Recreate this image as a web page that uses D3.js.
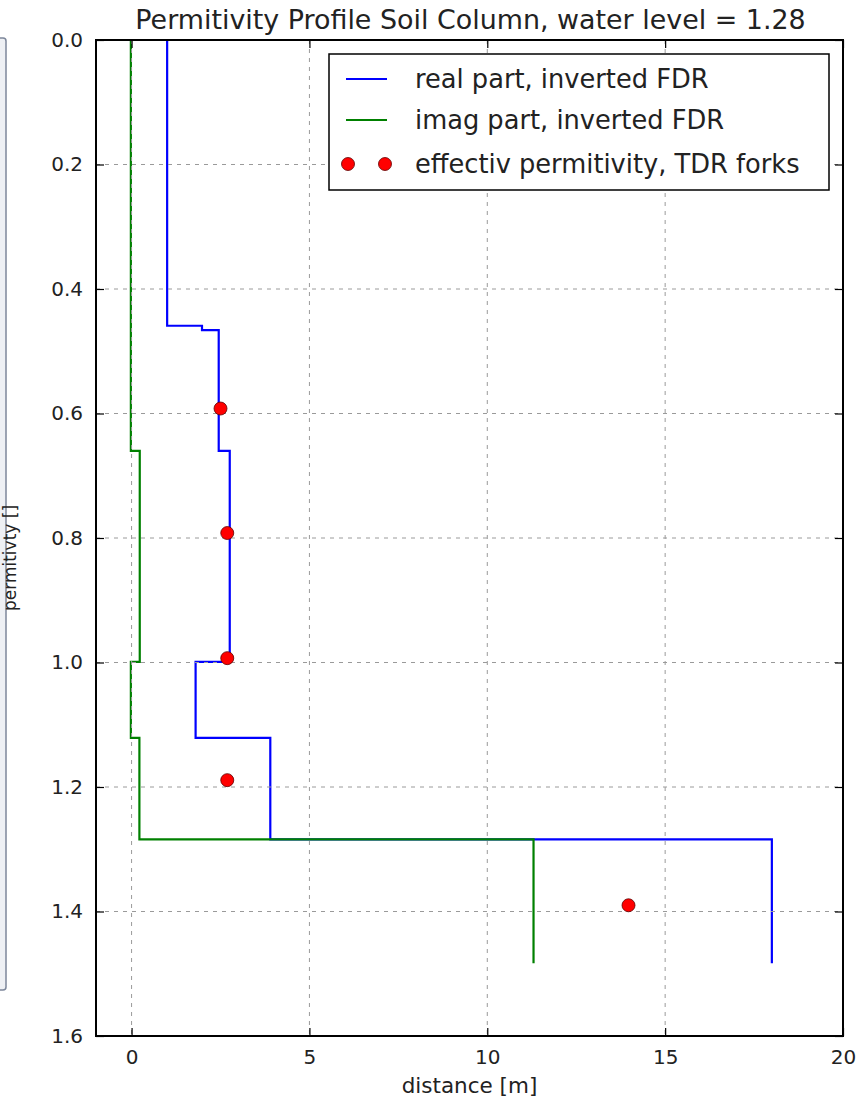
<!DOCTYPE html>
<html>
<head>
<meta charset="utf-8">
<script src="https://cdn.jsdelivr.net/npm/d3@7"></script>
<style>
  body { margin: 0; background: #fff; }
  svg { display: block; font-family: 'DejaVu Sans', sans-serif; }
</style>
</head>
<body>
<svg width="856" height="1106"></svg>
<script>
// depth breakpoints and step values of the inverted FDR profile
let realDepth = [0, 0.459, 0.466, 0.66, 0.999, 1.121, 1.284, 1.483];
let realValue = [1.0, 1.98, 2.45, 2.76, 1.8, 3.9, 18.0];

let imagDepth = [0, 0.66, 0.999, 1.121, 1.284, 1.483];
let imagValue = [-0.02, 0.23, -0.02, 0.22, 11.3];

// TDR fork measurements
let tdrValue = [2.5, 2.69, 2.69, 2.69, 13.97];
let tdrDepth = [0.592, 0.792, 0.993, 1.189, 1.39];

let xTicks = [0, 5, 10, 15, 20];
let yTicks = [0.0, 0.2, 0.4, 0.6, 0.8, 1.0, 1.2, 1.4, 1.6];

let legendLabels = ['real part, inverted FDR', 'imag part, inverted FDR', 'effectiv permitivity, TDR forks'];

// layout
let margin = { top: 40, right: 13, bottom: 70, left: 96 };
let width = 856 - margin.left - margin.right;
let height = 1106 - margin.top - margin.bottom;

let svg = d3.select('svg');

// window border at the far left of the screenshot
svg.append('rect')
    .attr('x', -4).attr('y', 38)
    .attr('width', 10).attr('height', 952)
    .attr('rx', 3)
    .attr('fill', '#eef0f4')
    .attr('stroke', '#7d879b')
    .attr('stroke-width', 1.5);

let g = svg.append('g')
    .attr('transform', 'translate(' + margin.left + ',' + margin.top + ')');

let xScale = d3.scaleLinear().domain([-1, 20]).range([0, width]);
let yScale = d3.scaleLinear().domain([0, 1.6]).range([0, height]);

// turn segment values into step points
let toSteps = (depths, vals) => {
    let pts = [];
    vals.forEach((v, i) => {
        pts.push([v, depths[i]]);
        pts.push([v, depths[i + 1]]);
    });
    return pts;
};

let line = d3.line()
    .x(d => xScale(d[0]))
    .y(d => yScale(d[1]));

g.append('path')
    .datum(toSteps(realDepth, realValue))
    .attr('d', line)
    .attr('fill', 'none')
    .attr('stroke', '#0000ff')
    .attr('stroke-width', 2.2);

g.append('path')
    .datum(toSteps(imagDepth, imagValue))
    .attr('d', line)
    .attr('fill', 'none')
    .attr('stroke', '#008000')
    .attr('stroke-width', 2.2);

// grid (drawn over the lines, classic style)
g.append('g').selectAll('line')
    .data(xTicks)
    .enter().append('line')
    .attr('x1', d => xScale(d)).attr('x2', d => xScale(d))
    .attr('y1', 0).attr('y2', height)
    .attr('stroke', '#9a9a9a')
    .attr('stroke-width', 1)
    .attr('stroke-dasharray', '4,5');

g.append('g').selectAll('line')
    .data(yTicks)
    .enter().append('line')
    .attr('x1', 0).attr('x2', width)
    .attr('y1', d => yScale(d)).attr('y2', d => yScale(d))
    .attr('stroke', '#9a9a9a')
    .attr('stroke-width', 1)
    .attr('stroke-dasharray', '4,5');

g.selectAll('.dot')
    .data(tdrValue)
    .enter().append('circle')
    .attr('class', 'dot')
    .attr('cx', d => xScale(d))
    .attr('cy', (d, i) => yScale(tdrDepth[i]))
    .attr('r', 6.5)
    .attr('fill', '#ff0000')
    .attr('stroke', '#600000')
    .attr('stroke-width', 0.8);

// axes with inward ticks on all four sides
let tickLen = 8;
let xAxis = d3.axisBottom(xScale).tickValues(xTicks).tickFormat(d3.format('d'))
    .tickSizeInner(-tickLen).tickSizeOuter(0).tickPadding(14);
let yAxis = d3.axisLeft(yScale).tickValues(yTicks).tickFormat(d3.format('.1f'))
    .tickSizeInner(-tickLen).tickSizeOuter(0).tickPadding(13);

let xg = g.append('g').attr('transform', 'translate(0,' + height + ')').call(xAxis);
let yg = g.append('g').call(yAxis);
g.append('g').call(d3.axisTop(xScale).tickValues(xTicks).tickFormat('').tickSizeInner(-tickLen).tickSizeOuter(0));
g.append('g').attr('transform', 'translate(' + width + ',0)')
    .call(d3.axisRight(yScale).tickValues(yTicks).tickFormat('').tickSizeInner(-tickLen).tickSizeOuter(0));

g.selectAll('.domain').remove();
g.selectAll('.tick line').attr('stroke', '#000').attr('stroke-width', 1.2);
xg.selectAll('text').attr('font-size', 20).attr('fill', '#222').attr('font-family', 'DejaVu Sans');
yg.selectAll('text').attr('font-size', 20).attr('fill', '#222').attr('font-family', 'DejaVu Sans');

// frame
g.append('rect')
    .attr('width', width).attr('height', height)
    .attr('fill', 'none')
    .attr('stroke', '#000')
    .attr('stroke-width', 2);

// title and axis labels
svg.append('text')
    .attr('x', margin.left + width / 2 + 1).attr('y', 29)
    .attr('text-anchor', 'middle')
    .attr('font-size', 26.9)
    .attr('fill', '#222')
    .text('Permitivity Profile Soil Column, water level = 1.28');

svg.append('text')
    .attr('x', margin.left + width / 2).attr('y', 1093)
    .attr('text-anchor', 'middle')
    .attr('font-size', 21.5)
    .attr('fill', '#222')
    .text('distance [m]');

svg.append('text')
    .attr('transform', 'translate(16,' + 558 + ') rotate(-90)')
    .attr('text-anchor', 'middle')
    .attr('font-size', 17)
    .attr('fill', '#222')
    .text('permitivty []');

// legend
let legend = svg.append('g').attr('transform', 'translate(329,54)');
legend.append('rect')
    .attr('width', 500).attr('height', 136)
    .attr('fill', '#fff')
    .attr('stroke', '#000')
    .attr('stroke-width', 1.5);

let rowY = [25, 66, 110];
let legendColors = ['#0000ff', '#008000'];
legendLabels.forEach((lab, i) => {
    let row = legend.append('g').attr('transform', 'translate(0,' + rowY[i] + ')');
    if (i < 2) {
        row.append('line')
            .attr('x1', 17).attr('x2', 58)
            .attr('stroke', legendColors[i])
            .attr('stroke-width', 2);
    } else {
        [19, 56].forEach(cx => {
            row.append('circle')
                .attr('cx', cx).attr('r', 6.5)
                .attr('fill', '#ff0000')
                .attr('stroke', '#600000')
                .attr('stroke-width', 0.8);
        });
    }
    row.append('text')
        .attr('x', 86).attr('y', 9)
        .attr('font-size', 25.7)
        .attr('fill', '#222')
        .text(lab);
});
</script>
</body>
</html>
